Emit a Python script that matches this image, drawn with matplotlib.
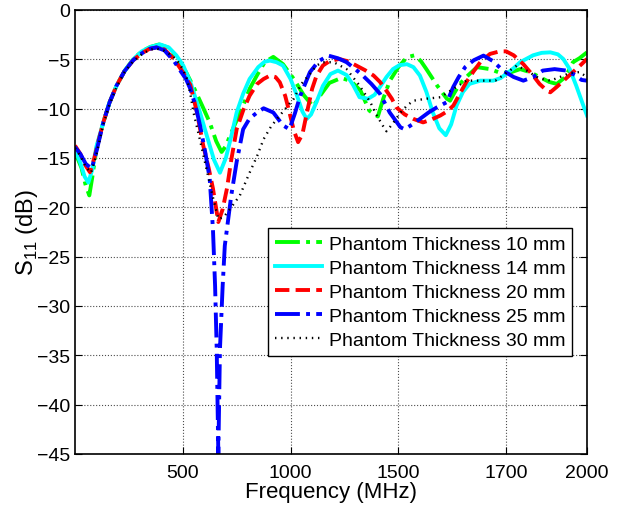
#!/usr/bin/env python3
"""
S11 vs frequency for several phantom thicknesses.
Values read off the reference figure. The x axis in the original is labelled
unevenly (500, 1000, 1500, 1700, 2000), so the curves are kept in tick-position
units (0 = left edge, 1 = "500", ... 4.75 = "2000").
"""
import matplotlib
matplotlib.use("Agg")
import matplotlib.pyplot as plt

plt.rcParams["font.family"] = ["Liberation Sans", "DejaVu Sans"]
plt.rcParams["font.size"] = 14

# tick positions / labels as shown on the reference axis
x_ticks = [1, 2, 3, 4, 4.75]
x_tick_labels = ["500", "1000", "1500", "1700", "2000"]
y_ticks = [0, -5, -10, -15, -20, -25, -30, -35, -40, -45]

labels = ["Phantom Thickness 10 mm", "Phantom Thickness 14 mm",
          "Phantom Thickness 20 mm", "Phantom Thickness 25 mm",
          "Phantom Thickness 30 mm"]

x_10 = [0, 0.06, 0.10, 0.133, 0.16, 0.2, 0.263, 0.32, 0.386, 0.46, 0.54, 0.62, 0.70,
        0.78, 0.86, 0.95, 1.03, 1.10, 1.18, 1.25, 1.31, 1.36, 1.40, 1.44, 1.50, 1.56,
        1.62, 1.69, 1.76, 1.84, 1.93, 2.03, 2.12, 2.21, 2.28, 2.36, 2.47, 2.56, 2.65,
        2.73, 2.81, 2.86, 2.92, 3.0, 3.08, 3.15, 3.21, 3.26, 3.36, 3.45, 3.48, 3.52,
        3.57, 3.65, 3.73, 3.85, 3.95, 4.05, 4.13, 4.22, 4.31, 4.40, 4.47, 4.55, 4.62,
        4.68, 4.75]
s_10 = [-14.4, -16.0, -17.8, -18.8, -17.0, -14.0, -11.4, -9.4, -7.67, -6.2, -5.0, -4.2,
        -3.75, -3.5, -3.8, -5.0, -6.3, -7.8, -9.7, -11.4, -13.3, -14.4, -13.8, -12.7,
        -11.2, -9.7, -8.0, -6.6, -5.3, -4.76, -5.5, -7.0, -8.6, -9.8, -8.6, -7.4, -6.9,
        -7.2, -8.2, -10.2, -10.8, -9.0, -7.2, -5.8, -4.8, -4.6, -5.2, -6.0, -7.67, -9.0,
        -9.2, -8.4, -7.5, -6.6, -5.8, -6.0, -6.4, -6.3, -6.0, -6.3, -6.8, -7.3, -7.5,
        -6.8, -5.3, -4.9, -4.3]

x_14 = [0, 0.05, 0.09, 0.124, 0.16, 0.2, 0.263, 0.32, 0.386, 0.46, 0.54, 0.62, 0.70,
        0.79, 0.87, 0.94, 1.005, 1.08, 1.16, 1.23, 1.29, 1.345, 1.40, 1.45, 1.5, 1.56,
        1.62, 1.70, 1.76, 1.81, 1.87, 1.93, 2.0, 2.06, 2.11, 2.15, 2.19, 2.24, 2.30,
        2.37, 2.44, 2.52, 2.58, 2.64, 2.72, 2.78, 2.83, 2.89, 2.95, 3.01, 3.08, 3.14,
        3.2, 3.26, 3.32, 3.38, 3.44, 3.49, 3.54, 3.60, 3.66, 3.76, 3.88, 3.95, 4.0,
        4.07, 4.13, 4.25, 4.33, 4.41, 4.48, 4.53, 4.59, 4.65, 4.70, 4.75]
s_14 = [-14.1, -15.5, -16.9, -17.5, -16.2, -13.8, -11.4, -9.4, -7.67, -6.2, -5.0, -4.2,
        -3.75, -3.5, -3.8, -4.6, -5.64, -7.6, -10.4, -13.0, -15.2, -16.5, -15.0, -12.8,
        -10.4, -8.5, -7.0, -5.8, -5.25, -5.14, -5.3, -5.64, -7.0, -8.7, -10.3, -11.05,
        -10.6, -9.35, -7.7, -6.5, -6.15, -6.6, -7.6, -8.85, -9.0, -8.6, -7.8, -6.8,
        -6.0, -5.6, -5.5, -5.8, -6.65, -8.3, -10.4, -12.0, -12.7, -11.6, -9.7, -8.3,
        -7.5, -7.17, -7.17, -6.9, -6.5, -5.9, -5.3, -4.6, -4.35, -4.3, -4.5, -4.97,
        -6.0, -7.67, -9.2, -10.7]

x_20 = [0, 0.05, 0.1, 0.139, 0.18, 0.22, 0.263, 0.32, 0.386, 0.46, 0.54, 0.62, 0.69,
        0.758, 0.83, 0.92, 1.0, 1.07, 1.13, 1.19, 1.24, 1.28, 1.33, 1.37, 1.41, 1.45,
        1.5, 1.56, 1.62, 1.69, 1.75, 1.81, 1.86, 1.90, 1.95, 1.99, 2.03, 2.07, 2.11,
        2.15, 2.2, 2.24, 2.30, 2.36, 2.45, 2.53, 2.61, 2.69, 2.77, 2.83, 2.89, 2.94,
        2.98, 3.06, 3.14, 3.23, 3.31, 3.39, 3.45, 3.51, 3.57, 3.63, 3.70, 3.76, 3.85,
        3.94, 4.0, 4.07, 4.16, 4.25, 4.31, 4.38, 4.41, 4.47, 4.53, 4.62, 4.70, 4.75]
s_20 = [-13.75, -14.6, -15.8, -16.45, -15.0, -13.2, -11.4, -9.4, -7.67, -6.2, -5.1,
        -4.4, -3.95, -3.8, -4.0, -5.0, -6.3, -7.6, -10.3, -13.75, -16.0, -18.1, -21.5,
        -20.2, -18.1, -15.2, -12.1, -10.2, -8.7, -7.5, -7.0, -6.65, -6.8, -7.33, -8.7,
        -10.4, -12.2, -13.4, -12.6, -10.5, -8.0, -6.7, -5.64, -5.2, -4.97, -5.2, -5.64,
        -6.1, -6.65, -7.3, -8.2, -9.0, -9.86, -10.6, -11.05, -11.4, -11.1, -10.7, -10.3,
        -9.7, -8.5, -7.33, -6.2, -5.3, -4.46, -4.2, -4.2, -4.6, -5.5, -6.65, -7.5, -8.2,
        -8.35, -7.8, -7.2, -6.3, -5.5, -4.97]

x_25 = [0, 0.05, 0.1, 0.155, 0.2, 0.263, 0.32, 0.386, 0.46, 0.54, 0.62, 0.69, 0.758,
        0.83, 0.92, 0.98, 1.03, 1.07, 1.12, 1.16, 1.21, 1.25, 1.28, 1.30, 1.315, 1.33,
        1.345, 1.37, 1.39, 1.41, 1.45, 1.5, 1.56, 1.62, 1.69, 1.75, 1.84, 1.93, 1.99,
        2.04, 2.09, 2.18, 2.26, 2.35, 2.44, 2.52, 2.60, 2.67, 2.75, 2.83, 2.92, 3.02,
        3.06, 3.13, 3.2, 3.28, 3.36, 3.45, 3.51, 3.56, 3.62, 3.70, 3.79, 3.88, 3.97,
        4.07, 4.16, 4.25, 4.34, 4.45, 4.56, 4.64, 4.70, 4.75]
s_25 = [-13.9, -14.6, -15.6, -16.1, -14.3, -11.4, -9.4, -7.67, -6.2, -5.1, -4.4, -3.95,
        -3.8, -4.1, -5.2, -6.2, -7.0, -8.0, -9.8, -11.7, -14.5, -17.1, -22.2, -28.0,
        -34.4, -45.0, -34.4, -28.0, -23.9, -22.2, -18.8, -15.4, -12.1, -11.0, -10.4,
        -9.97, -10.4, -11.7, -12.1, -10.5, -8.7, -6.3, -5.2, -4.63, -4.9, -5.3, -6.0,
        -6.65, -7.5, -8.5, -10.4, -11.9, -12.1, -11.6, -11.05, -10.4, -9.86, -9.35,
        -7.8, -6.8, -5.8, -5.1, -4.63, -5.2, -6.15, -6.8, -7.17, -6.8, -6.15, -6.0,
        -6.15, -6.6, -7.1, -7.17]

x_30 = [0, 0.05, 0.1, 0.15, 0.2, 0.263, 0.32, 0.386, 0.46, 0.54, 0.62, 0.69, 0.75,
        0.82, 0.88, 0.94, 1.0, 1.04, 1.07, 1.10, 1.16, 1.22, 1.28, 1.33, 1.38, 1.45,
        1.53, 1.62, 1.69, 1.75, 1.82, 1.90, 2.03, 2.10, 2.18, 2.24, 2.30, 2.40, 2.52,
        2.64, 2.74, 2.80, 2.86, 2.89, 2.95, 3.02, 3.08, 3.14, 3.26, 3.39, 3.51, 3.63,
        3.76, 3.90, 4.0, 4.1, 4.2, 4.30, 4.41, 4.50, 4.59, 4.68, 4.75]
s_30 = [-14.0, -14.8, -15.9, -16.5, -14.6, -11.6, -9.6, -7.8, -6.3, -5.2, -4.5, -4.05,
        -3.9, -4.1, -4.5, -5.0, -6.0, -7.0, -8.5, -10.4, -13.2, -16.1, -19.0, -21.2,
        -21.0, -20.0, -18.8, -16.5, -14.8, -13.1, -11.8, -10.7, -9.0, -7.5, -6.5,
        -5.64, -5.3, -5.3, -6.0, -7.67, -9.35, -10.7, -11.8, -12.3, -11.5, -10.4, -9.7,
        -9.2, -9.0, -8.85, -8.0, -7.17, -7.17, -7.17, -6.4, -5.64, -6.2, -6.9, -7.17,
        -6.8, -6.4, -6.3, -6.8]


def main():
    fig = plt.figure(figsize=(6.3, 5.1), dpi=100)
    ax = fig.add_axes([0.119, 0.108, 0.8127, 0.8706])

    ax.plot(x_10, s_10, color=(0, 1, 0), lw=2.8, ls="-.", label=labels[0])
    ax.plot(x_14, s_14, color=(0, 1, 1), lw=2.8, ls="-", label=labels[1])
    ax.plot(x_20, s_20, color=(1, 0, 0), lw=2.8, ls="--", label=labels[2])
    ax.plot(x_25, s_25, color=(0, 0, 1), lw=2.8, ls="-.", label=labels[3])
    ax.plot(x_30, s_30, color="black", lw=1.7, ls=(0, (0.6, 2.0)), label=labels[4])

    ax.set_xlim(0, 4.75)
    ax.set_ylim(-45, 0)
    ax.set_xticks(x_ticks)
    ax.set_xticklabels(x_tick_labels)
    ax.set_yticks(y_ticks)
    ax.tick_params(axis="x", pad=7)
    ax.tick_params(direction="in", top=True, right=True, length=5, width=0.8)
    ax.grid(True, ls=":", color="0.3", lw=0.8)
    for sp in ax.spines.values():
        sp.set_linewidth(1.2)

    ax.set_xlabel("Frequency (MHz)", fontsize=16, labelpad=0)
    ax.set_ylabel(r"S$_{\mathregular{11}}$ (dB)", fontsize=17, labelpad=-2)

    leg = ax.legend(loc="lower right", bbox_to_anchor=(0.971, 0.221),
                    borderaxespad=0, fancybox=False, framealpha=1,
                    edgecolor="black", handlelength=2.4, handletextpad=0.35,
                    labelspacing=0.33, borderpad=0.35, fontsize=14)
    leg.get_frame().set_linewidth(1.0)

    fig.savefig("out.png", dpi=100)


if __name__ == "__main__":
    main()
